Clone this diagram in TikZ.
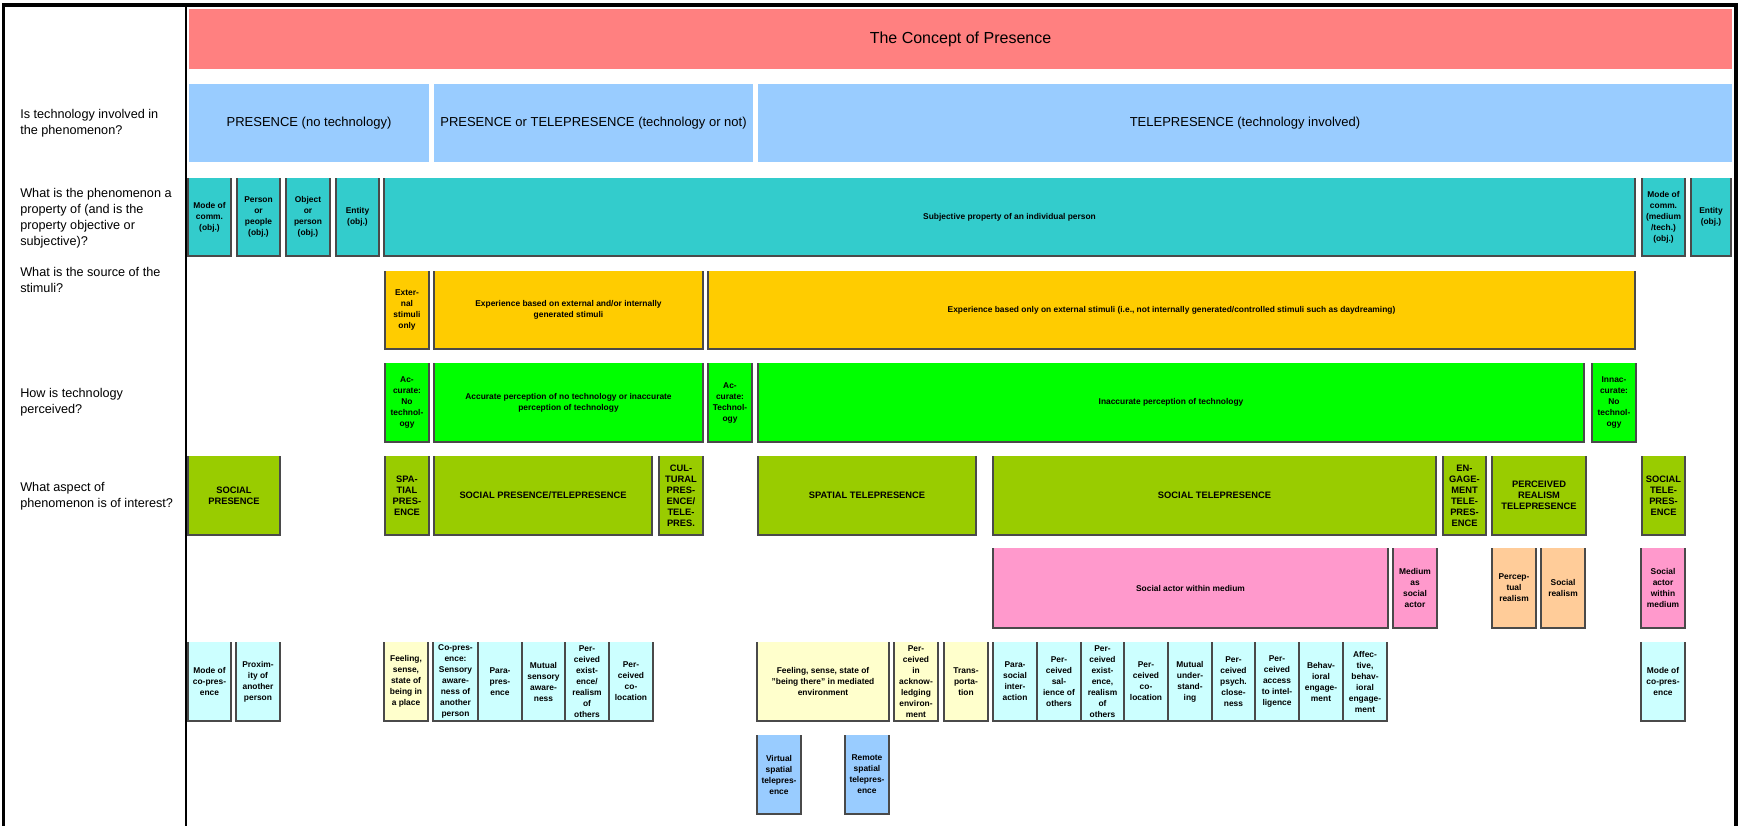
\documentclass[tikz,border=0pt]{standalone}
\usepackage{fontspec}
\setmainfont{Liberation Sans}
\definecolor{hdr}{HTML}{FF8080}
\definecolor{skyb}{HTML}{99CCFF}
\definecolor{tealc}{HTML}{33CCCC}
\definecolor{goldc}{HTML}{FFCC00}
\definecolor{limec}{HTML}{00FF00}
\definecolor{olivec}{HTML}{99CC00}
\definecolor{rosec}{HTML}{FF99CC}
\definecolor{peachc}{HTML}{FFCC99}
\definecolor{icec}{HTML}{CCFFFF}
\definecolor{creamc}{HTML}{FFFFCC}
\definecolor{edgec}{HTML}{4A4A4A}
% a filled cell with shaded left, bottom and right edges
% #1 name, #2 style, #3 x1, #4 y1, #5 x2, #6 y2, #7 text
\newcommand\pcell[7]{%
  \node[cell,#2,minimum width={(#5-#3)*0.75pt},minimum height={(#6-#4)*0.75pt}]
    (#1) at ({(#3+#5)/2},{(#4+#6)/2}) {#7};
  \draw[edgeline] (#1.north west) -- (#1.south west) -- (#1.south east) -- (#1.north east);
}
% a filled cell without edges
\newcommand\pflat[7]{%
  \node[cell,#2,minimum width={(#5-#3)*0.75pt},minimum height={(#6-#4)*0.75pt}]
    (#1) at ({(#3+#5)/2},{(#4+#6)/2}) {#7};
}
\begin{document}
\begin{tikzpicture}[x=0.75pt,y=-0.75pt,
  cell/.style={inner sep=1pt,outer sep=0pt,align=center,text=black},
  edgeline/.style={draw=edgec,line width=0.8pt},
  sm/.style={font=\bfseries\fontsize{6.3}{8.25}\selectfont},
  caps/.style={font=\bfseries\fontsize{7}{8.25}\selectfont},
  mid/.style={font=\fontsize{9.75}{12}\selectfont},
  qlabel/.style={anchor=west,align=left,inner sep=0pt,font=\fontsize{9.5}{12}\selectfont},
  frame/.style={line width=2.6pt,draw=black}]
\useasboundingbox (0,0) rectangle (1741,825);
\fill[white] (0,0) rectangle (1741,825);

% outer frame and question column divider
\draw[frame] (3.5,830) -- (3.5,5) -- (1736,5) -- (1736,830);
\draw[line width=1.6pt] (186,5) -- (186,830);

% questions
\node[qlabel] (q1) at (20,123) {Is technology involved in\\the phenomenon?};
\node[qlabel] (q2) at (20,218) {What is the phenomenon a\\property of (and is the\\property objective or\\subjective)?};
\node[qlabel] (q3) at (20,280) {What is the source of the\\stimuli?};
\node[qlabel] (q4) at (20,402) {How is technology\\perceived?};
\node[qlabel] (q5) at (20,496) {What aspect of\\phenomenon is of interest?};

% title
\pflat{title}{fill=hdr,font=\fontsize{12}{14}\selectfont}{189}{9}{1732}{69}{The Concept of Presence}

% technology involved?
\pflat{t1}{fill=skyb,mid}{189}{84}{429}{162}{PRESENCE (no technology)}
\pflat{t2}{fill=skyb,mid}{434}{84}{753}{162}{PRESENCE or TELEPRESENCE (technology or not)}
\pflat{t3}{fill=skyb,mid}{758}{84}{1732}{162}{TELEPRESENCE (technology involved)}

% property of
\pcell{p1}{fill=tealc,sm}{188}{178}{231}{256}{Mode of\\comm.\\(obj.)}
\pcell{p2}{fill=tealc,sm}{237}{178}{280}{256}{Person\\or\\people\\(obj.)}
\pcell{p3}{fill=tealc,sm}{286}{178}{330}{256}{Object\\or\\person\\(obj.)}
\pcell{p4}{fill=tealc,sm}{336}{178}{379}{256}{Entity\\(obj.)}
\pcell{p5}{fill=tealc,sm}{384}{178}{1635}{256}{Subjective property of an individual person}
\pcell{p6}{fill=tealc,sm}{1642}{178}{1685}{256}{Mode of\\comm.\\(medium\\/tech.)\\(obj.)}
\pcell{p7}{fill=tealc,sm}{1691}{178}{1731}{256}{Entity\\(obj.)}

% source of stimuli
\pcell{s1}{fill=goldc,sm}{385}{271}{429}{349}{Exter-\\nal\\stimuli\\only}
\pcell{s2}{fill=goldc,sm}{434}{271}{703}{349}{Experience based on external and/or internally\\generated stimuli}
\pcell{s3}{fill=goldc,sm}{708}{271}{1635}{349}{Experience based only on external stimuli (i.e., not internally generated/controlled stimuli such as daydreaming)}

% technology perceived
\pcell{g1}{fill=limec,sm}{385}{363}{429}{442}{Ac-\\curate:\\No\\technol-\\ogy}
\pcell{g2}{fill=limec,sm}{434}{363}{703}{442}{Accurate perception of no technology or inaccurate\\perception of technology}
\pcell{g3}{fill=limec,sm}{708}{363}{752}{442}{Ac-\\curate:\\Technol-\\ogy}
\pcell{g4}{fill=limec,sm}{758}{363}{1584}{442}{Inaccurate perception of technology}
\pcell{g5}{fill=limec,sm}{1592}{363}{1636}{442}{Innac-\\curate:\\No\\technol-\\ogy}

% aspect of interest
\pcell{a1}{fill=olivec,caps}{188}{456}{280}{535}{SOCIAL\\PRESENCE}
\pcell{a2}{fill=olivec,caps}{385}{456}{429}{535}{SPA-\\TIAL\\PRES-\\ENCE}
\pcell{a3}{fill=olivec,caps}{434}{456}{652}{535}{SOCIAL PRESENCE/TELEPRESENCE}
\pcell{a4}{fill=olivec,caps}{659}{456}{703}{535}{CUL-\\TURAL\\PRES-\\ENCE/\\TELE-\\PRES.}
\pcell{a5}{fill=olivec,caps}{758}{456}{976}{535}{SPATIAL TELEPRESENCE}
\pcell{a6}{fill=olivec,caps}{993}{456}{1436}{535}{SOCIAL TELEPRESENCE}
\pcell{a7}{fill=olivec,caps}{1443}{456}{1486}{535}{EN-\\GAGE-\\MENT\\TELE-\\PRES-\\ENCE}
\pcell{a8}{fill=olivec,caps}{1492}{456}{1586}{535}{PERCEIVED\\REALISM\\TELEPRESENCE}
\pcell{a9}{fill=olivec,caps}{1642}{456}{1685}{535}{SOCIAL\\TELE-\\PRES-\\ENCE}

% social actor / realism
\pcell{r1}{fill=rosec,sm}{993}{548}{1388}{628}{Social actor within medium}
\pcell{r2}{fill=rosec,sm}{1393}{548}{1437}{628}{Medium\\as\\social\\actor}
\pcell{r3}{fill=peachc,sm}{1492}{548}{1536}{628}{Percep-\\tual\\realism}
\pcell{r4}{fill=peachc,sm}{1541}{548}{1585}{628}{Social\\realism}
\pcell{r5}{fill=rosec,sm}{1641}{548}{1685}{628}{Social\\actor\\within\\medium}

% dimensions
\pcell{d1}{fill=icec,sm}{188}{642}{231}{721}{Mode of\\co-pres-\\ence}
\pcell{d2}{fill=icec,sm}{236}{642}{280}{721}{Proxim-\\ity of\\another\\person}
\pcell{d3}{fill=creamc,sm}{384}{642}{428}{721}{Feeling,\\sense,\\state of\\being in\\a place}
\pcell{d4}{fill=icec,sm}{433}{642}{478}{721}{Co-pres-\\ence:\\Sensory\\aware-\\ness of\\another\\person}
\pcell{d5}{fill=icec,sm}{478}{642}{522}{721}{Para-\\pres-\\ence}
\pcell{d6}{fill=icec,sm}{522}{642}{565}{721}{Mutual\\sensory\\aware-\\ness}
\pcell{d7}{fill=icec,sm}{565}{642}{609}{721}{Per-\\ceived\\exist-\\ence/\\realism\\of\\others}
\pcell{d8}{fill=icec,sm}{609}{642}{653}{721}{Per-\\ceived\\co-\\location}
\pcell{d9}{fill=creamc,sm}{757}{642}{889}{721}{Feeling, sense, state of\\"being there" in mediated\\environment}
\pcell{d10}{fill=creamc,sm}{894}{642}{938}{721}{Per-\\ceived\\in\\acknow-\\ledging\\environ-\\ment}
\pcell{d11}{fill=creamc,sm}{944}{642}{988}{721}{Trans-\\porta-\\tion}
\pcell{d12}{fill=icec,sm}{993}{642}{1037}{721}{Para-\\social\\inter-\\action}
\pcell{d13}{fill=icec,sm}{1037}{642}{1081}{721}{Per-\\ceived\\sal-\\ience of\\others}
\pcell{d14}{fill=icec,sm}{1081}{642}{1124}{721}{Per-\\ceived\\exist-\\ence,\\realism\\of\\others}
\pcell{d15}{fill=icec,sm}{1124}{642}{1168}{721}{Per-\\ceived\\co-\\location}
\pcell{d16}{fill=icec,sm}{1168}{642}{1212}{721}{Mutual\\under-\\stand-\\ing}
\pcell{d17}{fill=icec,sm}{1212}{642}{1255}{721}{Per-\\ceived\\psych.\\close-\\ness}
\pcell{d18}{fill=icec,sm}{1255}{642}{1299}{721}{Per-\\ceived\\access\\to intel-\\ligence}
\pcell{d19}{fill=icec,sm}{1299}{642}{1343}{721}{Behav-\\ioral\\engage-\\ment}
\pcell{d20}{fill=icec,sm}{1343}{642}{1387}{721}{Affec-\\tive,\\behav-\\ioral\\engage-\\ment}
\pcell{d21}{fill=icec,sm}{1641}{642}{1685}{721}{Mode of\\co-pres-\\ence}

% kinds of spatial telepresence
\pcell{v1}{fill=skyb,sm}{757}{735}{801}{814}{Virtual\\spatial\\telepres-\\ence}
\pcell{v2}{fill=skyb,sm}{845}{735}{889}{814}{Remote\\spatial\\telepres-\\ence}
\end{tikzpicture}
\end{document}
